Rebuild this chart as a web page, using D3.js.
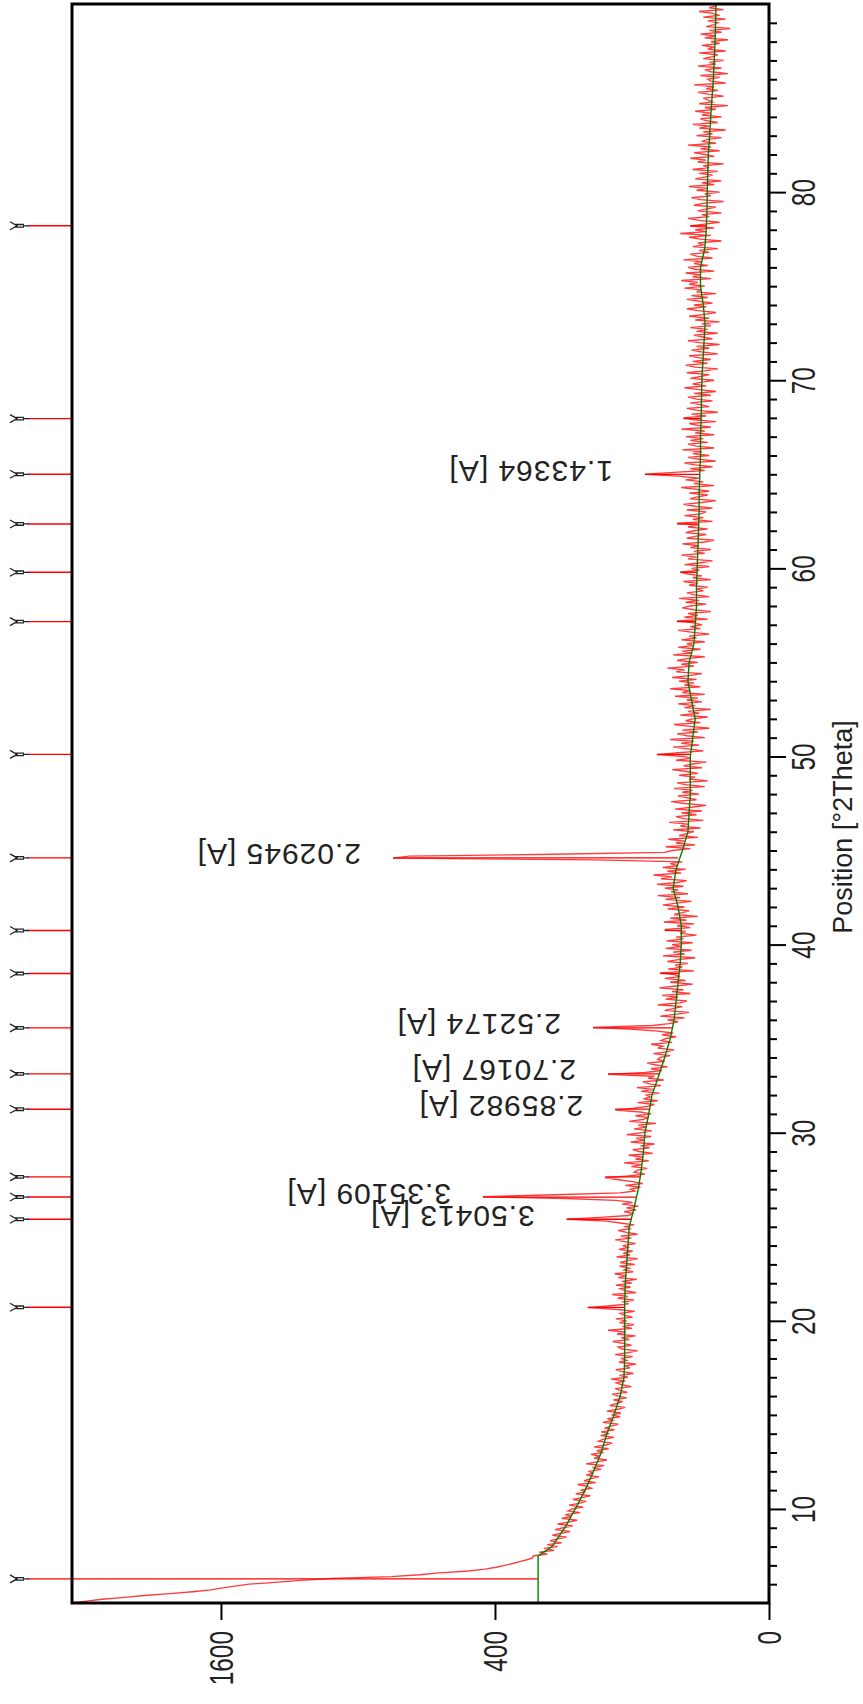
<!DOCTYPE html>
<html><head><meta charset="utf-8">
<script src="https://cdn.jsdelivr.net/npm/d3@7"></script>
<style>body{margin:0;background:#fff}svg{display:block}</style>
</head><body>
<svg id="c" width="863" height="1704"></svg>
<script>
// ---------------- DATA ----------------
const twoThetaStart = 5;      // first step of the scan [°2Theta]
const twoThetaStep = 0.1;     // step size of the scan
const counts = [
2588,2480,2370,2210,2080,1910,1770,1660,1590,1520,
1440,1300,1170,1020,760,650,580,480,430,396,
372,350,331,312,298,296,262,281,246,270,
238,262,229,255,241,218,250,232,211,244,
226,205,238,214,196,229,208,221,190,215,
206,184,213,192,178,205,186,170,199,181,
188,168,176,195,160,182,171,154,178,166,
172,150,166,145,178,158,140,163,152,169,
146,158,137,163,142,131,155,147,128,151,
136,150,127,144,133,121,147,130,139,118,
132,117,140,122,110,135,124,114,129,108,
121,131,107,118,126,101,115,124,110,133,
106,119,98,115,125,103,111,94,120,108,
117,99,126,108,92,115,121,101,113,130,
104,116,95,123,109,138,100,114,97,119,
108,125,99,112,118,96,121,175,134,105,
113,97,122,106,131,94,110,118,102,125,
100,115,93,121,108,127,98,112,104,119,
96,118,107,92,124,103,113,99,120,106,
114,95,109,126,101,117,92,108,121,103,
110,97,118,140,218,152,105,99,112,94,
108,91,115,99,125,220,436,245,118,96,
102,88,110,85,99,121,143,106,82,97,
93,79,101,86,112,77,95,84,105,72,
90,99,76,88,70,102,83,94,74,108,
86,73,97,80,91,68,104,85,77,95,
74,88,126,98,79,70,92,66,84,75,
80,64,87,71,93,62,76,85,59,78,
70,138,82,61,74,55,68,79,58,66,
63,52,71,56,48,66,60,74,50,62,
57,46,61,49,66,98,165,72,53,44,
55,38,63,45,34,58,49,40,66,42,
36,57,44,61,33,50,39,64,46,31,
52,37,58,42,48,63,30,54,40,47,
35,55,44,29,60,38,49,32,57,41,
50,31,56,39,46,28,42,37,58,33,
45,30,59,36,52,27,48,40,34,55,
38,60,46,32,57,42,66,35,51,44,
58,39,67,45,36,62,50,71,41,55,
37,60,44,52,40,160,753,690,250,58,
50,33,57,29,46,38,54,27,43,36,
30,49,25,42,35,53,23,39,46,28,
41,24,47,32,21,38,51,28,35,44,
26,40,31,48,22,37,45,20,34,29,
43,27,36,50,24,39,31,21,46,33,
38,67,44,23,35,49,26,41,30,52,
22,36,45,27,40,19,33,48,25,37,
31,20,42,26,35,18,38,29,44,24,
36,27,47,22,40,33,52,25,38,30,
43,28,50,34,24,46,38,55,30,41,
27,45,36,22,49,32,40,25,44,31,
36,22,41,28,34,19,31,44,25,33,
24,30,45,20,38,27,35,18,30,40,
33,21,37,26,43,19,30,36,23,28,
20,34,27,39,18,31,24,35,42,26,
32,19,38,25,17,35,28,41,22,30,
18,33,26,40,22,16,36,29,21,37,
30,20,35,27,45,17,31,23,38,25,
21,36,17,29,39,24,15,33,27,20,
34,19,28,41,16,30,23,37,26,44,
82,48,22,33,17,29,38,15,26,35,
19,31,24,40,16,28,35,20,33,23,
37,16,29,22,41,18,27,34,15,30,
39,21,32,14,27,36,19,25,33,17,
28,35,18,30,15,26,38,21,31,24,
16,33,25,19,36,22,14,29,37,20,
31,18,27,34,14,24,32,19,28,13,
26,35,17,23,30,14,28,20,33,18,
24,13,29,19,34,22,15,27,36,21,
30,17,26,36,20,32,15,28,24,38,
22,34,27,41,18,31,25,37,16,29,
35,20,30,24,39,17,28,33,19,26,
14,31,23,27,12,25,34,18,42,21,
29,16,33,22,13,26,35,19,24,12,
27,21,15,30,23,11,25,32,18,22,
13,28,20,34,16,24,12,29,22,17,
26,14,31,19,23,11,27,21,33,16,
22,30,13,25,18,35,15,24,20,12,
28,17,23,10,26,19,31,14,21,25,
12,24,18,29,15,22,9,26,17,20,
23,11,19,27,14,21,16,30,10,18,
20,13,25,9,18,22,12,27,15,19,
11,23,17,14,26,10,20,16,24,13,
18,9,22,15,25,12,19,8,21,16,
14,20,10,23,13,17,26,11,19,15,
16
];

// fitted background (green)
const bgTheta = [5,7.5,8,9,10,11,12,13,14,15,16,17,18,19,20,21,22,23,24,25,26,27,28,29,30,31,32,33,34,35,36,37,38,39,40,41,42,43,44,45,46,47,48,49,50,51,52,53,54,55,56,57,58,59,60,61,62,63,64,65,66,67,68,69,70,71,72,73,74,75,76,77,78,79,80,81,82,83,84,85,86,87,88,89,90];
const bgCounts = [284,284,251,222,200,180,164,150,140,128,118,112,111,111,111,111,110,108,106,104,97,91,87,84,82,77,73,65,58,52,48,46,44,42,41,41,44,49,46,40,35,34,33,33,33,31,29,32,35,34,30,29,28,28,27.5,27,26.5,26,26,25.5,25,25,24.5,24.3,24,23.3,22.5,21.8,23,25,25,22,21,20.5,20.3,20,19.6,18.8,18.1,17.3,16.5,16,15.5,15.2,15];

// identified peaks
const peakTheta = [6.28,20.72,25.40,26.58,27.65,31.25,33.13,35.57,38.46,40.75,44.61,50.11,57.17,59.79,62.36,65.00,67.96,78.21];
const peakHeight = [2588,175,218,436,143,126,138,165,63,58,753,67,45,42,45,82,39,33];
const peakBackground = [284,111,101,94,88,76,64,50,43,41,44,33,29,27.5,26.5,25.5,24.5,21];

// peak labels (d-spacing)
const labelTheta = [25.40,26.58,31.25,33.13,35.57,44.61,65.00];
const labelHeight = [218,436,126,138,165,753,82];
const labelText = ["3.50413 [A]","3.35109 [A]","2.85982 [A]","2.70167 [A]","2.52174 [A]","2.02945 [A]","1.43364 [A]"];

// axes
const countMax = 2588;
const countTicks = [0,400,1600];
const thetaMajor = [10,20,30,40,50,60,70,80];
const thetaMinor = d3.range(6,90).filter(v => v % 10 !== 0);
const axisTitle = "Position [°2Theta]";

// ---------------- DRAW ----------------
const svg = d3.select('#c');
const L = 72, R = 769, T = 4, B = 1603;
const font = '"Liberation Sans", Arial, sans-serif';

const x = d3.scaleSqrt().domain([0, countMax]).range([R, L]);
const y = d3.scaleLinear().domain([5, 90]).range([B, T]);

svg.append('rect').attr('width',863).attr('height',1704).attr('fill','#fff');

svg.append('clipPath').attr('id','clip').append('rect')
  .attr('x',L).attr('y',T).attr('width',R-L).attr('height',B-T);

const data = counts.map((c,i) => ({t: twoThetaStart + i*twoThetaStep, c}));
const plot = svg.append('g').attr('clip-path','url(#clip)');

plot.append('path').datum(data)
  .attr('d', d3.line().x(d => x(d.c)).y(d => y(d.t)))
  .attr('fill','none').attr('stroke','#ff3c3c').attr('stroke-width',1.35);

plot.append('path').datum(bgTheta.map((t,i) => ({t, c: bgCounts[i]})))
  .attr('d', d3.line().x(d => x(d.c)).y(d => y(d.t)))
  .attr('fill','none').attr('stroke','#008000').attr('stroke-width',1.4);

// peak lines
plot.selectAll('line.pk').data(peakTheta).join('line').attr('class','pk')
  .attr('x1',(d,i) => x(peakBackground[i])).attr('x2',(d,i) => x(peakHeight[i]))
  .attr('y1',d => y(d)).attr('y2',d => y(d))
  .attr('stroke','#ff0000').attr('stroke-width',1.3);

// reference markers outside frame
const mk = svg.append('g');
mk.selectAll('line.mk').data(peakTheta).join('line').attr('class','mk')
  .attr('x1',28).attr('x2',L).attr('y1',d => y(d)).attr('y2',d => y(d))
  .attr('stroke','#ff0000').attr('stroke-width',1.4);
mk.selectAll('path.sym').data(peakTheta).join('path').attr('class','sym')
  .attr('d', d => { const yy = y(d); return `M10,${yy-4}L17,${yy}L10,${yy+4}M15,${yy-1.3}H24M15,${yy+1.3}H24M23,${yy}H29`; })
  .attr('fill','none').attr('stroke','#222').attr('stroke-width',1.3);

// frame
svg.append('rect').attr('x',L).attr('y',T).attr('width',R-L).attr('height',B-T)
  .attr('fill','none').attr('stroke','#000').attr('stroke-width',3);

// right axis (2Theta)
const gMinor = svg.append('g').attr('transform',`translate(${R},0)`)
  .call(d3.axisRight(y).tickValues(thetaMinor).tickSize(8).tickFormat(''));
const gMajor = svg.append('g').attr('transform',`translate(${R},0)`)
  .call(d3.axisRight(y).tickValues(thetaMajor).tickSize(17).tickFormat(d3.format('d')));
[gMinor,gMajor].forEach(g => {
  g.select('.domain').remove();
  g.selectAll('.tick line').attr('stroke','#000').attr('stroke-width',2);
});
gMajor.selectAll('.tick text')
  .attr('x',null).attr('dy',null).attr('y',null)
  .attr('transform','translate(35,0) rotate(-90) scale(0.74,1)')
  .attr('text-anchor','middle').attr('dominant-baseline','central')
  .attr('font-family',font).attr('font-size',33).attr('fill','#222');

// bottom axis (counts, sqrt)
const gB = svg.append('g').attr('transform',`translate(0,${B})`)
  .call(d3.axisBottom(x).tickValues(countTicks).tickSize(17).tickFormat(d3.format('d')));
gB.select('.domain').remove();
gB.selectAll('.tick line').attr('stroke','#000').attr('stroke-width',2);
gB.selectAll('.tick text')
  .attr('y',null).attr('dy',null)
  .attr('transform','translate(0,28) rotate(-90) scale(0.74,1)')
  .attr('text-anchor','end').attr('dominant-baseline','central')
  .attr('font-family',font).attr('font-size',33).attr('fill','#222');

// axis title
svg.append('text').text(axisTitle)
  .attr('transform',`translate(843,${(y(40.5)+y(52))/2}) rotate(-90)`)
  .attr('text-anchor','middle').attr('dominant-baseline','central')
  .attr('font-family',font).attr('font-size',27).attr('fill','#222');

// peak labels (upside down)
svg.selectAll('text.lbl').data(labelTheta).join('text').attr('class','lbl')
  .text((d,i) => labelText[i])
  .attr('transform',(d,i) => `translate(${x(labelHeight[i]) - 32},${y(d) - 3}) rotate(180)`)
  .attr('text-anchor','start').attr('dominant-baseline','central')
  .attr('font-family',font).attr('font-size',30).attr('letter-spacing',1).attr('fill','#222');
</script>
</body></html>
